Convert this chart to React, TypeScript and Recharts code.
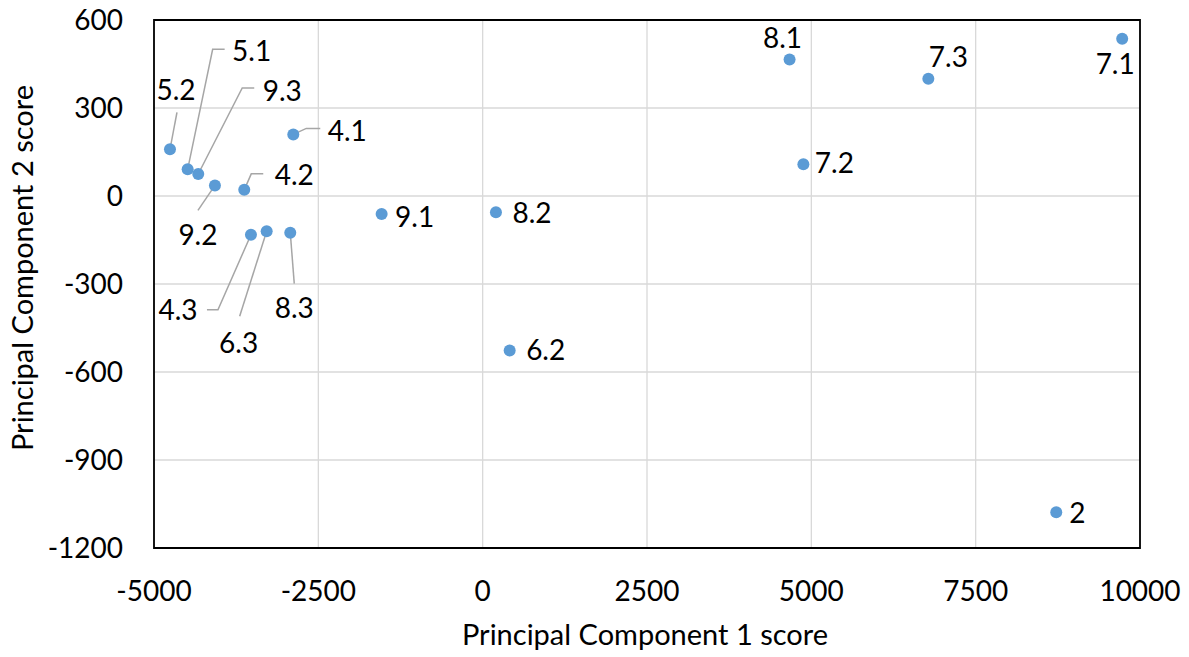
import React from 'react';
import { ScatterChart, Scatter, XAxis, YAxis, CartesianGrid, ReferenceArea, Label } from 'recharts';

// sample names and their principal component scores
const names = ['5.2', '5.1', '9.3', '9.2', '4.2', '4.1', '4.3', '6.3', '8.3', '9.1', '8.2', '6.2', '8.1', '7.2', '7.3', '7.1', '2'];
const pc1 = [-4757, -4488, -4327, -4073, -3627, -2881, -3525, -3286, -2927, -1537, 202, 411, 4669, 4879, 6780, 9729, 8726];
const pc2 = [159, 91, 75, 36, 21, 210, -132, -120, -125, -61, -55, -527, 465, 108, 400, 536, -1078];

const xTicks = [-5000, -2500, 0, 2500, 5000, 7500, 10000];
const yTicks = [-1200, -900, -600, -300, 0, 300, 600];

// where each data label sits relative to its point (px), plus leader-line bends
const labelLayout: Record<string, { dx: number; dy: number; leader?: number[][] }> = {
  '5.2': { dx: 6, dy: -59, leader: [[7, -37]] },
  '5.1': { dx: 64, dy: -118, leader: [[37, -120], [25, -120]] },
  '9.3': { dx: 84, dy: -83, leader: [[56, -86], [44, -86]] },
  '4.1': { dx: 54, dy: -3, leader: [[27, -6], [13, -6]] },
  '4.2': { dx: 50, dy: -15, leader: [[19, -16], [7, -16]] },
  '9.2': { dx: -17, dy: 50, leader: [[-17, 25]] },
  '4.3': { dx: -73, dy: 75, leader: [[-44, 75], [-33, 75]] },
  '6.3': { dx: -28, dy: 112, leader: [[-27, 85]] },
  '8.3': { dx: 4, dy: 75, leader: [[4, 51]] },
  '9.1': { dx: 33, dy: 3 },
  '8.2': { dx: 36, dy: 1 },
  '6.2': { dx: 36, dy: -1 },
  '8.1': { dx: -7, dy: -22 },
  '7.2': { dx: 31, dy: -1 },
  '7.3': { dx: 20, dy: -22 },
  '7.1': { dx: -7, dy: 25 },
  '2': { dx: 21, dy: 1 },
};

const FONT = 'Lato, "Open Sans", sans-serif';
const TEXT_SIZE = 28;
const TITLE_SIZE = 29;

const data = names.map((name, i) => ({ name, x: pc1[i], y: pc2[i] }));

const PointMark = (props: any) => {
  const { cx, cy, payload } = props;
  const lay = labelLayout[payload.name] || { dx: 20, dy: 0 };
  const leaderPts = lay.leader
    ? [...lay.leader.map(([dx, dy]) => `${cx + dx},${cy + dy}`), `${cx},${cy}`].join(' ')
    : null;
  return (
    <g>
      {leaderPts && <polyline points={leaderPts} fill="none" stroke="#A6A6A6" strokeWidth={1.5} />}
      <circle cx={cx} cy={cy} r={6} fill="#5B9BD5" />
      <text x={cx + lay.dx} y={cy + lay.dy} dy={10} textAnchor="middle" fontSize={TEXT_SIZE} fontFamily={FONT} fill="#000">
        {payload.name}
      </text>
    </g>
  );
};

export default function App() {
  return (
    <div style={{ position: 'absolute', left: 0, top: 0, background: '#fff' }}>
      <ScatterChart width={1189} height={657} margin={{ top: 20, right: 49, bottom: 49, left: 54 }}>
        <CartesianGrid stroke="#D9D9D9" strokeWidth={1.3} />
        <XAxis
          type="number"
          dataKey="x"
          domain={[-5000, 10000]}
          ticks={xTicks}
          interval={0}
          height={60}
          axisLine={false}
          tickLine={false}
          tickSize={8}
          tickMargin={25}
          tick={{ fontSize: TEXT_SIZE, fill: '#000', fontFamily: FONT }}
        >
          <Label
            content={() => (
              <text x={645} y={645} textAnchor="middle" fontSize={TITLE_SIZE} fontFamily={FONT} fill="#000">
                Principal Component 1 score
              </text>
            )}
          />
        </XAxis>
        <YAxis
          type="number"
          dataKey="y"
          domain={[-1200, 600]}
          ticks={yTicks}
          interval={0}
          width={100}
          axisLine={false}
          tickLine={false}
          tickSize={8}
          tickMargin={23}
          tick={{ fontSize: TEXT_SIZE, fill: '#000', fontFamily: FONT }}
        >
          <Label
            content={() => (
              <text
                x={33}
                y={268}
                transform="rotate(-90 33 268)"
                textAnchor="middle"
                fontSize={TITLE_SIZE}
                fontFamily={FONT}
                fill="#000"
              >
                Principal Component 2 score
              </text>
            )}
          />
        </YAxis>
        <ReferenceArea x1={-5000} x2={10000} y1={-1200} y2={600} fill="none" stroke="#000" strokeWidth={1.8} />
        <Scatter data={data} shape={PointMark} isAnimationActive={false} />
      </ScatterChart>
    </div>
  );
}
